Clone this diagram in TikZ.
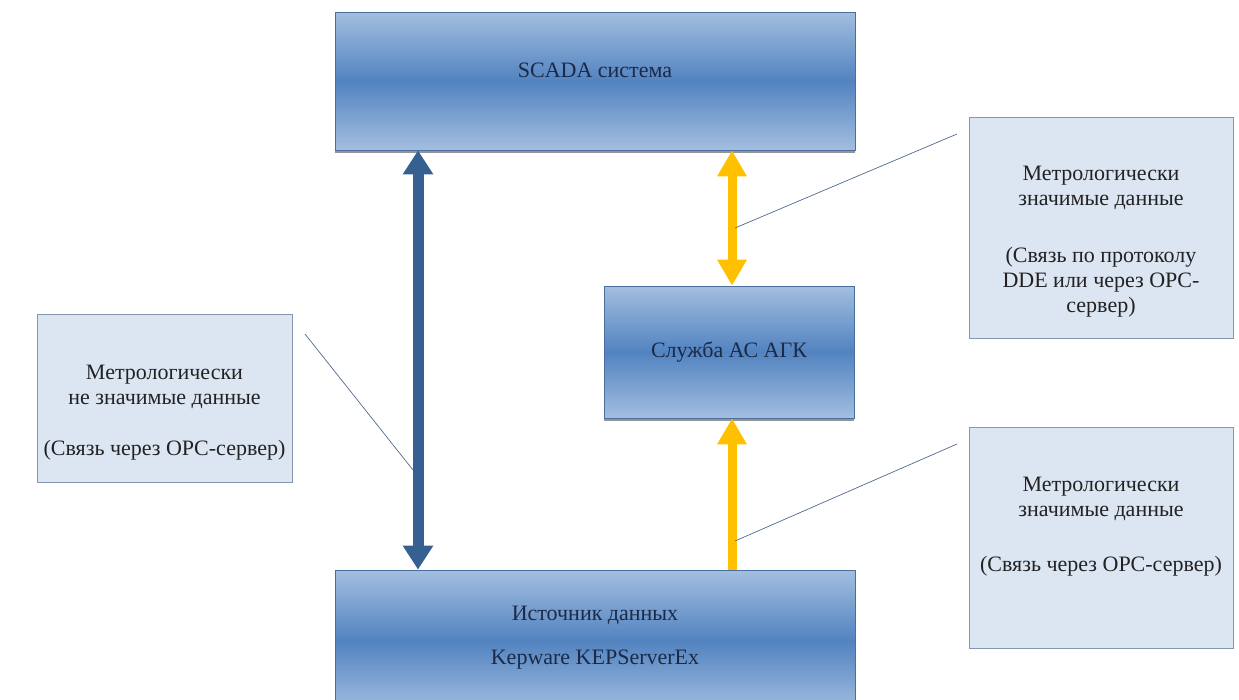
\documentclass[tikz,border=0pt]{standalone}
\usepackage{fontspec}
\setmainfont{Liberation Serif}
\usetikzlibrary{arrows.meta,shadows}
\definecolor{boxtop}{HTML}{A3BEE0}
\definecolor{boxmid}{HTML}{5283C0}
\definecolor{boxborder}{HTML}{4A6E9E}
\definecolor{calfill}{HTML}{DCE6F2}
\definecolor{calborder}{HTML}{8497B0}
\definecolor{darkarrow}{HTML}{376092}
\definecolor{yel}{HTML}{FFC000}
\definecolor{boxtext}{HTML}{1B2A47}
\definecolor{caltext}{HTML}{222222}
\definecolor{leader}{HTML}{50698E}
\tikzset{
  bluebox/.style={draw=boxborder, line width=0.8pt, top color=boxtop, bottom color=boxtop, middle color=boxmid,
    inner sep=0pt,
    drop shadow={shadow xshift=0pt, shadow yshift=-2.5pt, opacity=0.6, fill=black!70}},
  boxtxt/.style={text=boxtext, font=\fontsize{22}{25}\selectfont, align=center},
  callout/.style={draw=calborder, line width=0.8pt, fill=calfill, inner sep=0pt},
  caltxt/.style={text=caltext, font=\fontsize{22}{25}\selectfont, align=center},
  darrow/.style={draw=darkarrow, line width=11pt, {Triangle[width=29pt,length=24pt]}-{Triangle[width=29pt,length=24pt]}},
  ydarrow/.style={draw=yel, line width=9pt, {Triangle[width=28pt,length=26pt]}-{Triangle[width=28pt,length=26pt]}},
  yarrow/.style={draw=yel, line width=9pt, -{Triangle[width=28pt,length=26pt]}},
  leaderline/.style={draw=leader, line width=0.7pt}
}
\begin{document}
\begin{tikzpicture}[x=1pt,y=-1pt]
\useasboundingbox (0,0) rectangle (1239,699);
\clip (0,0) rectangle (1239,699);
% main boxes
\node[bluebox, minimum width=520pt, minimum height=138pt] (scada) at (595,81) {};
\node[boxtxt] (scadat) at (595,70) {SCADA система};
\node[bluebox, minimum width=250pt, minimum height=132pt] (agk) at (729,352) {};
\node[boxtxt] (agkt) at (729,352) {Служба АС АГК};
\node[bluebox, minimum width=520pt, minimum height=142pt] (src) at (595,641) {};
\node[boxtxt] (srct1) at (595,615) {Источник данных};
\node[boxtxt] (srct2) at (595,660) {Kepware KEPServerEx};
% callouts
\node[callout, minimum width=255pt, minimum height=168pt] (cl) at (164.5,398) {};
\node[caltxt] (clt) at (164.5,413) {Метрологически\\не значимые данные\\[26pt](Связь через OPC-сервер)};
\node[callout, minimum width=264pt, minimum height=221pt] (ct) at (1101,227.5) {};
\node[caltxt] (ctt) at (1101,242) {Метрологически\\значимые данные\\[32pt](Связь по протоколу\\DDE или через OPC-\\сервер)};
\node[callout, minimum width=264pt, minimum height=221pt] (cb) at (1101,537.5) {};
\node[caltxt] (cbt) at (1101,527) {Метрологически\\значимые данные\\[30pt](Связь через OPC-сервер)};
% arrows
\coordinate (dx) at (418,0);
\coordinate (yx) at (732,0);
\draw[darrow] (dx |- scada.south) -- (dx |- src.north);
\draw[ydarrow] (yx |- scada.south) -- (yx |- agk.north);
\draw[yarrow] (yx |- src.north) -- (yx |- agk.south);
% leader lines
\coordinate (l1a) at (305,334);
\coordinate (l1b) at (413,470);
\coordinate (l2a) at (957,134);
\coordinate (l2b) at (735,228);
\coordinate (l3a) at (957,444);
\coordinate (l3b) at (735,541);
\draw[leaderline] (l1a) -- (l1b);
\draw[leaderline] (l2a) -- (l2b);
\draw[leaderline] (l3a) -- (l3b);
\end{tikzpicture}
\end{document}
